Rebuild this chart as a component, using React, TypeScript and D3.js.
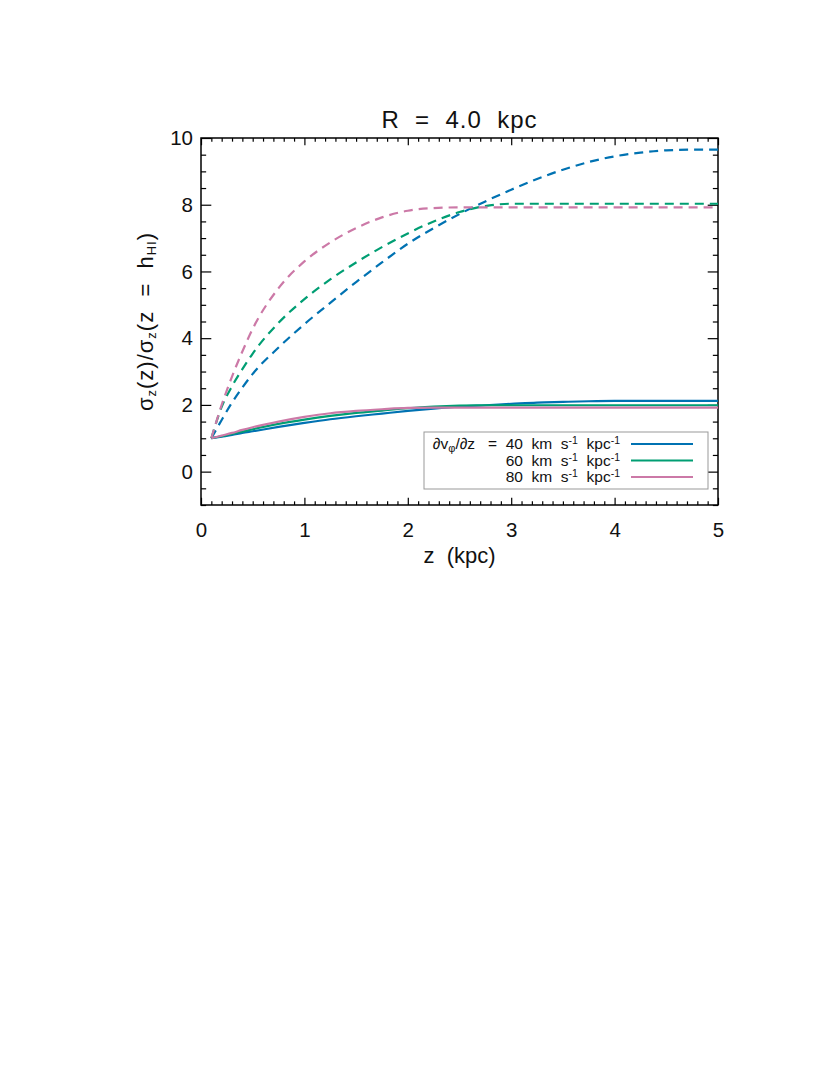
import React, { useEffect, useRef } from 'react';
import * as d3 from 'd3';

// z sampling (kpc) shared by all curves
const zGrid = [0.1, 0.2, 0.3, 0.4, 0.5, 0.75, 1, 1.25, 1.5, 1.75, 2, 2.25, 2.5, 2.75, 3, 3.25, 3.5, 3.75, 4, 4.25, 4.5, 4.75, 5];

// dashed curves
const dashed40 = [1.0, 1.55, 2.07, 2.52, 2.93, 3.72, 4.42, 5.06, 5.68, 6.27, 6.83, 7.3, 7.72, 8.1, 8.45, 8.77, 9.05, 9.28, 9.45, 9.56, 9.63, 9.65, 9.65];
const dashed60 = [1.0, 1.94, 2.56, 3.07, 3.54, 4.46, 5.17, 5.76, 6.27, 6.73, 7.14, 7.5, 7.78, 7.96, 8.03, 8.03, 8.03, 8.03, 8.03, 8.03, 8.03, 8.03, 8.03];
const dashed80 = [1.0, 2.0, 2.85, 3.6, 4.28, 5.5, 6.3, 6.87, 7.3, 7.62, 7.82, 7.9, 7.92, 7.92, 7.92, 7.92, 7.92, 7.92, 7.92, 7.92, 7.92, 7.92, 7.92];

// solid curves
const solid40 = [1.0, 1.05, 1.1, 1.16, 1.21, 1.34, 1.46, 1.57, 1.66, 1.74, 1.82, 1.89, 1.95, 1.99, 2.03, 2.07, 2.09, 2.11, 2.12, 2.12, 2.12, 2.12, 2.12];
const solid60 = [1.0, 1.06, 1.13, 1.2, 1.27, 1.43, 1.56, 1.67, 1.76, 1.83, 1.9, 1.95, 1.98, 1.99, 1.99, 1.99, 1.99, 1.99, 1.99, 1.99, 1.99, 1.99, 1.99];
const solid80 = [1.0, 1.08, 1.16, 1.25, 1.33, 1.5, 1.64, 1.75, 1.82, 1.87, 1.91, 1.92, 1.92, 1.92, 1.92, 1.92, 1.92, 1.92, 1.92, 1.92, 1.92, 1.92, 1.92];

const gradients = ['40', '60', '80'];
const colors = ['#0072b2', '#009e73', '#cc79a7'];

const xTicks = [0, 1, 2, 3, 4, 5];
const yTicks = [0, 2, 4, 6, 8, 10];

const FONT = '"Liberation Sans", Arial, sans-serif';

function App() {
    const ref = useRef<SVGSVGElement>(null);

    useEffect(() => {
        const svg = d3.select(ref.current);
        svg.selectAll('*').remove();

        const left = 201, right = 718, top = 138, bottom = 505;
        const x = d3.scaleLinear().domain([0, 5]).range([left, right]);
        const y = d3.scaleLinear().domain([-1, 10]).range([bottom, top]);

        const xMinor = d3.range(0, 50.5, 1).filter(i => i % 10 !== 0).map(i => i / 10);
        const yMinor = d3.range(-2, 20.5, 1).filter(i => i % 4 !== 0).map(i => i / 2);

        const xLen = 7.3, yLen = 10.3;

        const styleAxis = (g: any) => {
            g.select('.domain').remove();
            g.selectAll('line').attr('stroke', '#000').attr('stroke-width', 1.2);
            g.attr('font-family', FONT).attr('font-size', 20.5);
            g.selectAll('text').attr('fill', '#111');
        };

        // bottom
        svg.append('g').attr('transform', `translate(0,${bottom})`)
            .call(d3.axisBottom(x).tickValues(xTicks).tickSizeInner(-xLen).tickSizeOuter(0).tickPadding(17).tickFormat(d3.format('d')))
            .call(styleAxis);
        svg.append('g').attr('transform', `translate(0,${bottom})`)
            .call(d3.axisBottom(x).tickValues(xMinor).tickSizeInner(-xLen / 2).tickSizeOuter(0).tickFormat(() => ''))
            .call(styleAxis);
        // top
        svg.append('g').attr('transform', `translate(0,${top})`)
            .call(d3.axisTop(x).tickValues(xTicks).tickSizeInner(-xLen).tickSizeOuter(0).tickFormat(() => ''))
            .call(styleAxis);
        svg.append('g').attr('transform', `translate(0,${top})`)
            .call(d3.axisTop(x).tickValues(xMinor).tickSizeInner(-xLen / 2).tickSizeOuter(0).tickFormat(() => ''))
            .call(styleAxis);
        // left
        svg.append('g').attr('transform', `translate(${left},0)`)
            .call(d3.axisLeft(y).tickValues(yTicks).tickSizeInner(-yLen).tickSizeOuter(0).tickPadding(8).tickFormat(d3.format('d')))
            .call(styleAxis);
        svg.append('g').attr('transform', `translate(${left},0)`)
            .call(d3.axisLeft(y).tickValues(yMinor).tickSizeInner(-yLen / 2).tickSizeOuter(0).tickFormat(() => ''))
            .call(styleAxis);
        // right
        svg.append('g').attr('transform', `translate(${right},0)`)
            .call(d3.axisRight(y).tickValues(yTicks).tickSizeInner(-yLen).tickSizeOuter(0).tickFormat(() => ''))
            .call(styleAxis);
        svg.append('g').attr('transform', `translate(${right},0)`)
            .call(d3.axisRight(y).tickValues(yMinor).tickSizeInner(-yLen / 2).tickSizeOuter(0).tickFormat(() => ''))
            .call(styleAxis);

        svg.append('rect')
            .attr('x', left).attr('y', top)
            .attr('width', right - left).attr('height', bottom - top)
            .attr('fill', 'none').attr('stroke', '#000').attr('stroke-width', 1.5);

        const line = d3.line<number>()
            .x((_, i) => x(zGrid[i]))
            .y(d => y(d))
            .curve(d3.curveMonotoneX);

        const dashed = [dashed40, dashed60, dashed80];
        const solid = [solid40, solid60, solid80];

        dashed.forEach((vals, i) => {
            svg.append('path')
                .attr('d', line(vals))
                .attr('fill', 'none')
                .attr('stroke', colors[i])
                .attr('stroke-width', 2.2)
                .attr('stroke-dasharray', '9,6');
        });
        solid.forEach((vals, i) => {
            svg.append('path')
                .attr('d', line(vals))
                .attr('fill', 'none')
                .attr('stroke', colors[i])
                .attr('stroke-width', 2.2);
        });

        // title
        svg.append('text')
            .attr('x', (left + right) / 2).attr('y', 128)
            .attr('text-anchor', 'middle')
            .attr('font-family', FONT).attr('font-size', 24)
            .attr('letter-spacing', 1)
            .attr('fill', '#111')
            .style('white-space', 'pre')
            .text('R  =  4.0  kpc');

        // x label
        svg.append('text')
            .attr('x', (left + right) / 2).attr('y', 563)
            .attr('text-anchor', 'middle')
            .attr('font-family', FONT).attr('font-size', 22)
            .attr('fill', '#111')
            .style('white-space', 'pre')
            .text('z  (kpc)');

        // y label
        const yl = svg.append('text')
            .attr('transform', `translate(153,${(top + bottom) / 2}) rotate(-90)`)
            .attr('text-anchor', 'middle')
            .attr('font-family', FONT).attr('font-size', 22)
            .attr('letter-spacing', 1)
            .attr('fill', '#111')
            .style('white-space', 'pre');
        const parts: [string, boolean][] = [
            ['σ', false], ['z', true], ['(z)/σ', false], ['z', true], ['(z  =  h', false], ['HI', true], [')', false],
        ];
        parts.forEach(([t, sub]) => {
            const ts = yl.append('tspan').text(t);
            if (sub) ts.attr('font-size', 13).attr('baseline-shift', '-25%');
        });

        // legend
        const lg = svg.append('g');
        lg.append('rect')
            .attr('x', 424).attr('y', 432).attr('width', 284).attr('height', 57)
            .attr('fill', '#fff').attr('stroke', '#999').attr('stroke-width', 1);
        gradients.forEach((g, i) => {
            const cy = 444 + i * 16.5;
            const t = lg.append('text')
                .attr('x', 620).attr('y', cy + 5)
                .attr('text-anchor', 'end')
                .attr('font-family', FONT).attr('font-size', 15.5)
                .attr('fill', '#111')
                .style('white-space', 'pre');
            if (i === 0) {
                t.append('tspan').text('∂v');
                t.append('tspan').text('φ').attr('font-size', 11).attr('baseline-shift', '-25%');
                t.append('tspan').text('/∂z   =  ');
            }
            t.append('tspan').text(`${g}  km  s`);
            t.append('tspan').text('-1').attr('font-size', 10.5).attr('baseline-shift', '45%');
            t.append('tspan').text('  kpc');
            t.append('tspan').text('-1').attr('font-size', 10.5).attr('baseline-shift', '45%');
            lg.append('line')
                .attr('x1', 631).attr('x2', 693)
                .attr('y1', cy).attr('y2', cy)
                .attr('stroke', colors[i]).attr('stroke-width', 2.2);
        });
    }, []);

    return (
        <svg ref={ref} width={830} height={1075}
            style={{ position: 'absolute', left: 0, top: 0, background: '#fff' }} />
    );
}

export default App;
